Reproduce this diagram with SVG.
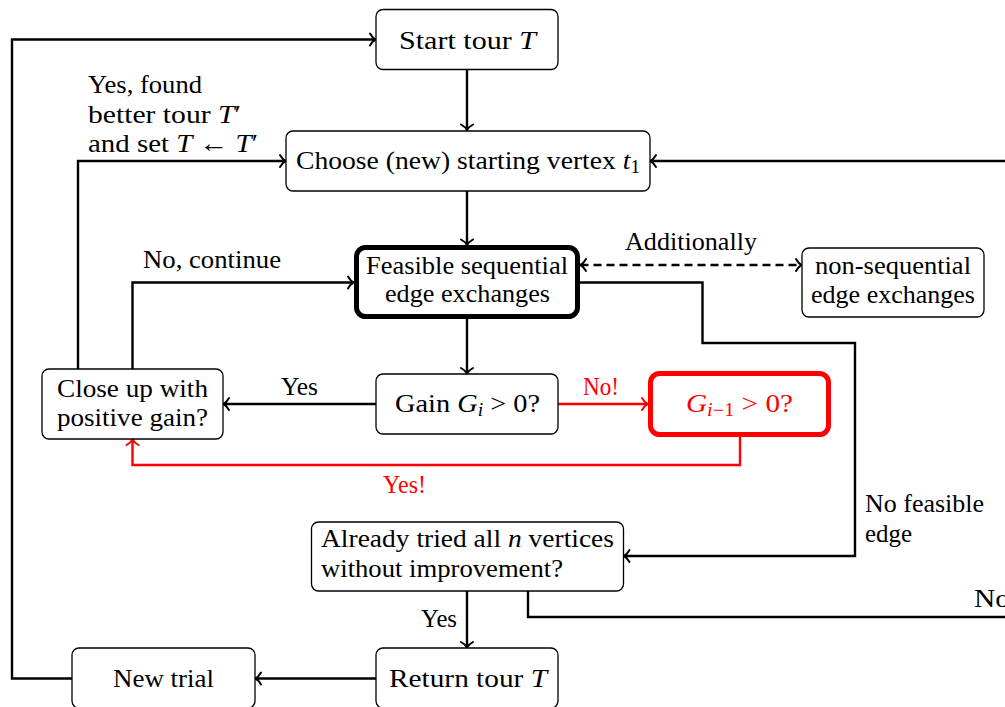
<svg xmlns="http://www.w3.org/2000/svg" width="1005" height="707" viewBox="0 0 1005 707">
<style>
text{font-family:"Liberation Serif","Times New Roman",serif;font-size:26px;fill:#000}
.r{fill:#ff0000}
.i{font-style:italic}
.sub{font-size:18px}
.box{fill:#fff;stroke:#000;stroke-width:1.3}
.thick{stroke-width:5}
.redbox{fill:#fff;stroke:#ff0000;stroke-width:5}
.c{fill:none;stroke:#000;stroke-width:2.4}
.cr{fill:none;stroke:#ff0000;stroke-width:2.4}
.d{stroke-dasharray:8 5}
</style>
<defs>
<marker id="a" markerUnits="userSpaceOnUse" markerWidth="16" markerHeight="16" refX="0" refY="0" viewBox="-8 -8 10 16" orient="auto-start-reverse" overflow="visible">
<path d="M-5.5,-6 C-3.5,-2.5 -1.2,-0.6 0,0 C-1.2,0.6 -3.5,2.5 -5.5,6" fill="none" stroke="#000" stroke-width="2" stroke-linecap="round"/>
</marker>
<marker id="ar" markerUnits="userSpaceOnUse" markerWidth="16" markerHeight="16" refX="0" refY="0" viewBox="-8 -8 10 16" orient="auto" overflow="visible">
<path d="M-5.5,-6 C-3.5,-2.5 -1.2,-0.6 0,0 C-1.2,0.6 -3.5,2.5 -5.5,6" fill="none" stroke="#ff0000" stroke-width="2" stroke-linecap="round"/>
</marker>
</defs>

<g id="connectors">
<path class="c" d="M467,70 L467,130" marker-end="url(#a)"/>
<path class="c" d="M467,191 L467,245" marker-end="url(#a)"/>
<path class="c" d="M467,319 L467,373.5" marker-end="url(#a)"/>
<path class="c" d="M376,404 L223.5,404" marker-end="url(#a)"/>
<path class="cr" d="M558,404 L647.5,404" marker-end="url(#ar)"/>
<path class="cr" d="M740,437 L740,465 L132.5,465 L132.5,439.5" marker-end="url(#ar)"/>
<path class="c" d="M132.5,369 L132.5,282.5 L353.5,282.5" marker-end="url(#a)"/>
<path class="c" d="M78,369 L78,161 L285.5,161" marker-end="url(#a)"/>
<path class="c d" d="M580.5,265 L801.5,265" marker-start="url(#a)" marker-end="url(#a)"/>
<path class="c" d="M580,282.5 L702.5,282.5 L702.5,343 L855,343 L855,556 L624,556" marker-end="url(#a)"/>
<path class="c" d="M528,591 L528,617 L1020,617 L1020,161 L650.5,161" marker-end="url(#a)"/>
<path class="c" d="M467,591 L467,647.5" marker-end="url(#a)"/>
<path class="c" d="M376,678.5 L255.5,678.5" marker-end="url(#a)"/>
<path class="c" d="M72,678.5 L12,678.5 L12,39.5 L375.5,39.5" marker-end="url(#a)"/>
</g>

<g id="labels">
<text x="88" y="92.5" textLength="114" lengthAdjust="spacingAndGlyphs">Yes, found</text>
<text x="88" y="122.5" textLength="153" lengthAdjust="spacingAndGlyphs">better tour <tspan class="i">T</tspan>′</text>
<text x="88" y="152" textLength="170" lengthAdjust="spacingAndGlyphs">and set <tspan class="i">T</tspan> ← <tspan class="i">T</tspan>′</text>
<text x="143" y="268" textLength="138" lengthAdjust="spacingAndGlyphs">No, continue</text>
<text x="625" y="250" textLength="132" lengthAdjust="spacingAndGlyphs">Additionally</text>
<text x="281" y="395" textLength="37" lengthAdjust="spacingAndGlyphs">Yes</text>
<text class="r" x="583" y="395" textLength="36" lengthAdjust="spacingAndGlyphs">No!</text>
<text class="r" x="383" y="492.5" textLength="43" lengthAdjust="spacingAndGlyphs">Yes!</text>
<text x="865" y="512" textLength="119" lengthAdjust="spacingAndGlyphs">No feasible</text>
<text x="865" y="542" textLength="47" lengthAdjust="spacingAndGlyphs">edge</text>
<text x="974" y="607" textLength="36" lengthAdjust="spacingAndGlyphs">No</text>
<text x="421" y="627" textLength="36" lengthAdjust="spacingAndGlyphs">Yes</text>
</g>

<g id="start">
<rect class="box" x="376" y="9.5" width="182" height="60" rx="7"/>
<text x="399" y="48.5" textLength="137" lengthAdjust="spacingAndGlyphs">Start tour <tspan class="i">T</tspan></text>
</g>

<g id="choose">
<rect class="box" x="286" y="131" width="364" height="60" rx="7"/>
<text x="296" y="168.5" textLength="344" lengthAdjust="spacingAndGlyphs">Choose (new) starting vertex <tspan class="i">t</tspan><tspan class="sub" dy="4">1</tspan></text>
</g>

<g id="feasible">
<rect class="box thick" x="356.5" y="247.5" width="221" height="69" rx="9"/>
<text x="366" y="274" textLength="202" lengthAdjust="spacingAndGlyphs">Feasible sequential</text>
<text x="385" y="302" textLength="165" lengthAdjust="spacingAndGlyphs">edge exchanges</text>
</g>

<g id="nonseq">
<rect class="box" x="802" y="248" width="182" height="69" rx="7"/>
<text x="815" y="274" textLength="156" lengthAdjust="spacingAndGlyphs">non-sequential</text>
<text x="811" y="303" textLength="164" lengthAdjust="spacingAndGlyphs">edge exchanges</text>
</g>

<g id="closeup">
<rect class="box" x="42" y="369" width="181" height="70" rx="7"/>
<text x="57" y="396.5" textLength="151" lengthAdjust="spacingAndGlyphs">Close up with</text>
<text x="57" y="425.5" textLength="151" lengthAdjust="spacingAndGlyphs">positive gain?</text>
</g>

<g id="gain">
<rect class="box" x="376" y="374" width="182" height="60" rx="7"/>
<text x="395" y="411.5" textLength="145" lengthAdjust="spacingAndGlyphs">Gain <tspan class="i">G</tspan><tspan class="sub i" dy="4">i</tspan><tspan dy="-4"> &gt; 0?</tspan></text>
</g>

<g id="gprev">
<rect class="redbox" x="650.5" y="373.5" width="178" height="61" rx="9"/>
<text class="r" x="686" y="411.5" textLength="107" lengthAdjust="spacingAndGlyphs"><tspan class="i">G</tspan><tspan class="sub" dy="4"><tspan class="i">i</tspan>−1</tspan><tspan dy="-4"> &gt; 0?</tspan></text>
</g>

<g id="already">
<rect class="box" x="311.5" y="522" width="312" height="69" rx="7"/>
<text x="321" y="547" textLength="293" lengthAdjust="spacingAndGlyphs">Already tried all <tspan class="i">n</tspan> vertices</text>
<text x="321" y="577" textLength="242" lengthAdjust="spacingAndGlyphs">without improvement?</text>
</g>

<g id="return">
<rect class="box" x="376" y="648" width="182" height="60" rx="7"/>
<text x="389" y="687" textLength="158" lengthAdjust="spacingAndGlyphs">Return tour <tspan class="i">T</tspan></text>
</g>

<g id="newtrial">
<rect class="box" x="72" y="648" width="183" height="60" rx="7"/>
<text x="113" y="687" textLength="101" lengthAdjust="spacingAndGlyphs">New trial</text>
</g>
</svg>
